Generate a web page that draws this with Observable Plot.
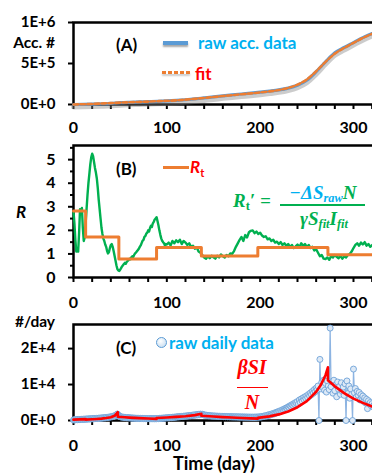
<!DOCTYPE html>
<html><head><meta charset="utf-8">
<script src="https://cdn.jsdelivr.net/npm/d3@7"></script>
<script src="https://cdn.jsdelivr.net/npm/@observablehq/plot@0.6"></script>
<style>
html,body{margin:0;padding:0;background:#fff;}
#wrap{position:relative;width:372px;height:474px;overflow:hidden;font-family:Lato,"Open Sans",sans-serif;font-weight:bold;color:#000;}
#wrap > svg{position:absolute !important;left:0;max-width:none !important;}
.t{position:absolute;white-space:nowrap;line-height:1;}
.m{font-family:"Liberation Serif",serif;font-weight:bold;font-style:italic;}
.m sub{font-size:0.65em;vertical-align:-0.3em;line-height:0;}
</style></head><body><div id="wrap"></div>
<script>
// ---------- DATA ----------
// Panel A: accumulated cases (every 10 days)
const accDays = [0,10,20,30,40,50,60,70,80,90,100,110,120,130,140,150,160,170,180,190,200,210,220,230,240,250,260,270,280,290,300,310,320,330];
const accRaw  = [0,2000,5000,9000,14000,22000,27000,31000,35000,39000,44000,50000,58000,68000,80000,92000,105000,117000,128000,138000,150000,163000,178000,200000,235000,295000,400000,520000,630000,695000,755000,815000,865000,905000];
const accFit  = [0,3000,7000,12000,17000,23000,27500,31500,35500,40000,45000,51000,59000,69000,80000,91000,103000,114000,125000,136000,147000,160000,177000,202000,242000,305000,405000,520000,620000,690000,752000,812000,862000,902000];
const accTicks = [0,500000,1000000];
const accTickLabels = ["0E+0","5E+5","1E+6"];

// Panel B: R_t' (daily for days 0-99, then every 2 days from 100)
const rPrimeDaily = [2.8,2.3,1.6,1.1,1.25,1.1,1.9,2.9,2.75,2.95,
  2.1,1.55,1.7,2.3,2.9,3.5,4.0,4.4,4.8,5.1,
  5.25,5.15,4.9,4.65,4.45,4.2,3.8,3.3,2.9,2.5,
  2.1,1.85,1.65,1.55,1.4,1.3,1.12,1.02,1.08,1.25,
  1.38,1.42,1.3,1.12,0.92,0.72,0.52,0.36,0.3,0.28,
  0.33,0.4,0.47,0.52,0.57,0.62,0.58,0.66,0.7,0.74,
  0.8,0.77,0.86,0.9,0.87,0.96,1.02,1.06,1.12,1.16,
  1.22,1.3,1.36,1.46,1.56,1.6,1.72,1.76,1.86,1.9,
  2.0,1.95,2.1,2.2,2.14,2.3,2.36,2.46,2.5,2.56,
  2.4,2.22,2.0,1.82,1.66,1.56,1.5,1.45,1.36,1.42];
const rPrimeEvery2 = [1.4,1.48,1.36,1.55,1.45,1.58,1.5,1.6,1.42,1.55,
  1.48,1.38,1.45,1.3,1.35,1.22,1.28,1.1,1.05,0.95,
  0.85,0.8,0.9,0.82,0.92,0.86,0.8,0.92,0.85,0.98,
  0.9,0.85,0.95,0.9,1.02,1.0,1.12,1.3,1.45,1.6,
  1.72,1.55,1.8,1.7,1.92,1.98,2.0,1.88,1.95,1.85,
  1.9,1.78,1.72,1.75,1.62,1.66,1.55,1.6,1.48,1.52,
  1.42,1.5,1.38,1.45,1.35,1.42,1.3,1.38,1.25,1.32,
  1.4,1.28,1.45,1.35,1.42,1.3,1.38,1.25,1.3,1.15,
  1.2,1.05,0.9,0.95,0.8,0.78,0.85,0.75,0.9,0.85,
  0.95,0.88,0.82,0.92,0.8,0.9,0.85,0.95,1.0,1.1,
  1.25,1.38,1.45,1.35,1.48,1.4,1.5,1.35,1.42,1.3,
  1.38,1.32,1.4];
// R_t step function: change days and values
const rtDays = [0,13,48.6,89,137,197.5,272.6,340];
const rtVals = [2.82,1.72,0.78,1.27,0.91,1.27,0.97,0.97];
const rTicks = [0,1,2,3,4,5];
const rMinorTicks = [0.5,1.5,2.5,3.5,4.5,5.5];

// Panel C: raw daily data (day 0 .. 325)
const dailyRaw = [150,220,180,260,210,300,240,330,280,350,
  300,380,320,410,360,440,390,470,420,500,
  450,540,480,570,520,610,550,650,590,700,
  640,740,680,790,730,850,800,920,880,1000,
  960,1100,1050,1250,1200,1400,1550,1800,1500,1200,
  1050,950,1000,880,920,820,860,780,800,720,
  760,690,720,650,700,620,660,600,640,580,
  620,560,600,540,580,520,560,500,550,490,
  540,480,530,470,520,480,510,470,520,490,
  560,520,600,560,640,600,680,640,720,680,
  760,720,800,760,850,800,900,850,950,900,
  1000,950,1050,1000,1100,1050,1150,1100,1200,1150,
  1250,1200,1300,1250,1380,1300,1450,1380,1520,1450,
  1580,1500,1650,1560,1700,1620,1780,1680,1750,1600,
  1550,1450,1500,1380,1420,1300,1350,1250,1300,1200,
  1280,1180,1250,1150,1220,1120,1200,1100,1180,1080,
  1150,1060,1130,1040,1120,1020,1100,1000,1080,980,
  1060,960,1050,950,1040,940,1030,930,1020,920,
  1010,910,1000,900,990,890,980,880,970,870,
  960,860,950,850,960,860,980,880,1000,900,
  1050,950,1150,1050,1250,1150,1350,1250,1500,1400,
  1650,1550,1800,1700,1950,1850,2150,2050,2350,2250,
  2550,2450,2750,2650,3000,2900,3250,3150,3500,3400,
  3800,3650,4100,3950,4400,4250,4700,4550,5000,4800,
  5300,4600,5700,5000,6000,5400,6300,5800,6600,6100,
  6900,6400,7300,6800,7700,7200,8100,7600,8600,8000,
  9000,8500,9600,0,17000,8800,10600,9200,11200,8400,
  10300,7900,11000,9600,8600,25700,9400,10800,7600,11200,
  8300,9900,6600,10700,8700,9500,7300,10500,8100,9300,
  7000,10200,0,11000,7500,9600,6200,8800,7200,0,
  14300,7700,8900,6500,8100,7000,7800,5700,7200,6300,
  6800,5300,6300,4900,5900,3300,5500,4600,5000,4100,
  4700,3800,4300,3500,4000,3200];
// Panel C: beta*S*I/N model curve
const modelDays = [0,13,13,20,25,30,35,40,44,47.5,47.5,55,60,70,80,89,89,100,110,120,130,137,137,150,160,170,180,190,197.5,197.5,210,220,230,240,250,260,265,270,272.6,272.6,280,290,300,310,320,330];
const modelVals = [250,380,240,330,420,520,680,900,1300,2300,1050,900,800,650,540,460,700,850,1000,1200,1500,1850,1320,1100,950,820,700,600,520,740,1150,1700,2500,3700,5400,8000,9900,12600,14800,11200,9500,7600,6100,4900,3900,3100];
const cTicks = [0,10000,20000];
const cTickLabels = ["0E+0","1E+4","2E+4"];

const xTicks = d3.range(0, 341, 20);
const xTickLabels = [0,100,200,300];

// ---------- LAYOUT ----------
const W = 400, ML = 73, MR = W - ML - 0.9333 * 340;
const baseStyle = {fontFamily: "Lato, 'Open Sans', sans-serif", fontSize: "15px", fontWeight: "bold", color: "#000", background: "transparent", overflow: "visible", maxWidth: "none"};
const xAxis = (pad) => Plot.axisX({ticks: xTicks, tickFormat: d => xTickLabels.includes(d) ? String(d) : "", tickSize: 5, tickPadding: pad, strokeWidth: 2, fontSize: 16});

const accTable = accDays.map((d, i) => ({day: d, raw: accRaw[i], fit: accFit[i]}));
const rPrime = rPrimeDaily.map((v, i) => ({day: i, r: v})).concat(rPrimeEvery2.map((v, i) => ({day: 100 + 2 * i, r: v})));
const rt = rtDays.map((d, i) => ({day: d, r: rtVals[i]}));
const daily = dailyRaw.map((v, i) => ({day: i, v}));
const model = modelDays.map((d, i) => ({day: d, v: modelVals[i]}));

const wrap = document.getElementById("wrap");
function place(svg, top) {
  svg.style.position = "absolute";
  svg.style.left = "0px";
  svg.style.top = top + "px";
  svg.style.maxWidth = "none";
  svg.style.width = W + "px";
  wrap.appendChild(svg);
}

const pA = Plot.plot({
  width: W, height: 135, marginLeft: ML, marginRight: MR, marginTop: 22, marginBottom: 31,
  x: {domain: [0, 340], label: null}, y: {domain: [0, 1e6], label: null},
  style: baseStyle,
  marks: [
    Plot.frame({stroke: "#000", strokeWidth: 2.5}),
    Plot.axisY({ticks: accTicks, tickFormat: d => accTickLabels[accTicks.indexOf(d)], tickSize: 5, tickPadding: 13, strokeWidth: 2}),
    xAxis(12),
    Plot.line(accTable, {x: "day", y: "raw", stroke: "#7f7f7f", strokeOpacity: 0.4, strokeWidth: 5, dy: 2.5, curve: "monotone-x"}),
    Plot.line(accTable, {x: "day", y: "raw", stroke: "#5b9bd5", strokeWidth: 3.2, curve: "monotone-x"}),
    Plot.line(accTable, {x: "day", y: "fit", stroke: "#ed7d31", strokeWidth: 2.6, strokeDasharray: "4.5,2.5", curve: "monotone-x"})
  ]
});
place(pA, 0);

const pB = Plot.plot({
  width: W, height: 180, marginLeft: ML, marginRight: MR, marginTop: 15, marginBottom: 33,
  x: {domain: [0, 340], label: null}, y: {domain: [0, 5.6], label: null},
  style: baseStyle,
  marks: [
    Plot.frame({stroke: "#000", strokeWidth: 2.5}),
    Plot.axisY({ticks: rTicks, tickFormat: d => String(d), tickSize: 5, tickPadding: 13, strokeWidth: 2, fontSize: 16}),
    Plot.axisY({ticks: rMinorTicks, tickFormat: () => "", tickSize: 3, strokeWidth: 2}),
    xAxis(14),
    Plot.line(rPrime, {x: "day", y: "r", stroke: "#00b050", strokeWidth: 2.4}),
    Plot.line(rt, {x: "day", y: "r", stroke: "#ed7d31", strokeWidth: 3, curve: "step-after"})
  ]
});
place(pB, 130);

const pC = Plot.plot({
  width: W, height: 164, marginLeft: ML, marginRight: MR, marginTop: 14, marginBottom: 54,
  x: {domain: [0, 340], label: null}, y: {domain: [0, 26700], label: null},
  style: baseStyle,
  marks: [
    Plot.frame({stroke: "#000", strokeWidth: 2.5}),
    Plot.axisY({ticks: cTicks, tickFormat: d => cTickLabels[cTicks.indexOf(d)], tickSize: 5, tickPadding: 13, strokeWidth: 2}),
    xAxis(14),
    Plot.line(daily, {x: "day", y: "v", stroke: "#8db4e2", strokeWidth: 1.2}),
    Plot.dot(daily, {x: "day", y: "v", r: 3, fill: "#dde9f6", stroke: "#6fa3d8", strokeWidth: 0.9}),
    Plot.line(model, {x: "day", y: "v", stroke: "#ff0000", strokeWidth: 2.6})
  ]
});
place(pC, 310);

// ---------- TEXT / LEGENDS ----------
function add(html, css, cls) {
  const d = document.createElement("div");
  d.className = "t" + (cls ? " " + cls : "");
  d.innerHTML = html;
  Object.assign(d.style, css);
  wrap.appendChild(d);
  return d;
}
const vc = "translateY(-50%)";
// axis titles
add("Acc. #", {right: (372 - 55) + "px", top: "43px", transform: vc, fontSize: "15.5px"});
add("<i>R</i>", {left: "16px", top: "211px", transform: vc, fontSize: "17px"});
add("#/day", {right: (372 - 55) + "px", top: "322px", transform: vc, fontSize: "15.5px"});
add("Time (day)", {left: "214px", top: "463px", transform: "translate(-50%,-50%)", fontSize: "18px"});
// panel labels
add("(A)", {left: "116px", top: "44px", transform: vc, fontSize: "17px"});
add("(B)", {left: "116px", top: "168px", transform: vc, fontSize: "17px"});
add("(C)", {left: "116px", top: "347px", transform: vc, fontSize: "17px"});
// legend A
add("", {left: "163px", top: "41px", width: "25px", height: "3.5px", background: "#5b9bd5", boxShadow: "0 2px 2px rgba(0,0,0,0.35)"});
add("raw acc. data", {left: "198px", top: "42px", transform: vc, fontSize: "17px", color: "#00b0f0"});
add("", {left: "162px", top: "71px", width: "28px", height: "3px", background: "repeating-linear-gradient(90deg,#ed7d31 0 4px,transparent 4px 6px)", boxShadow: "0 2px 2px rgba(0,0,0,0.2)"});
add("fit", {left: "195px", top: "73px", transform: vc, fontSize: "17px", color: "#ff0000"});
// legend B
add("", {left: "163px", top: "165.5px", width: "26px", height: "3px", background: "#ed7d31"});
add("<i>R</i><sub style='font-size:11px;vertical-align:-0.35em'>t</sub>", {left: "190px", top: "168px", transform: vc, fontSize: "17px", color: "#ff0000"});
// formula R_t'
add("R<sub style='font-style:normal'>t</sub>&#8242; =", {left: "233px", top: "200px", transform: vc, fontSize: "19px", color: "#00b050"}, "m");
add("<span style='color:#00b0f0'>&#8722;&#916;S<sub>raw</sub></span>N", {left: "323px", top: "192px", transform: "translate(-50%,-50%)", fontSize: "19px", color: "#00b050"}, "m");
add("", {left: "280px", top: "204px", width: "85px", height: "1.5px", background: "#00b050"});
add("&#947;S<sub>fit</sub>I<sub>fit</sub>", {left: "324px", top: "218px", transform: "translate(-50%,-50%)", fontSize: "19px", color: "#00b050"}, "m");
// legend C
add("", {left: "156px", top: "337px", width: "9px", height: "9px", borderRadius: "50%", background: "radial-gradient(circle at 40% 35%, #ffffff, #bdd7ee)", border: "1px solid #5b9bd5"});
add("raw daily data", {left: "169px", top: "342px", transform: vc, fontSize: "17px", color: "#00b0f0"});
// beta S I / N
add("&#946;SI", {left: "252px", top: "367px", transform: "translate(-50%,-50%)", fontSize: "20px", color: "#ff0000"}, "m");
add("", {left: "237px", top: "386.5px", width: "31px", height: "1.5px", background: "#ff0000"});
add("N", {left: "252px", top: "402px", transform: "translate(-50%,-50%)", fontSize: "20px", color: "#ff0000"}, "m");
</script></body></html>
